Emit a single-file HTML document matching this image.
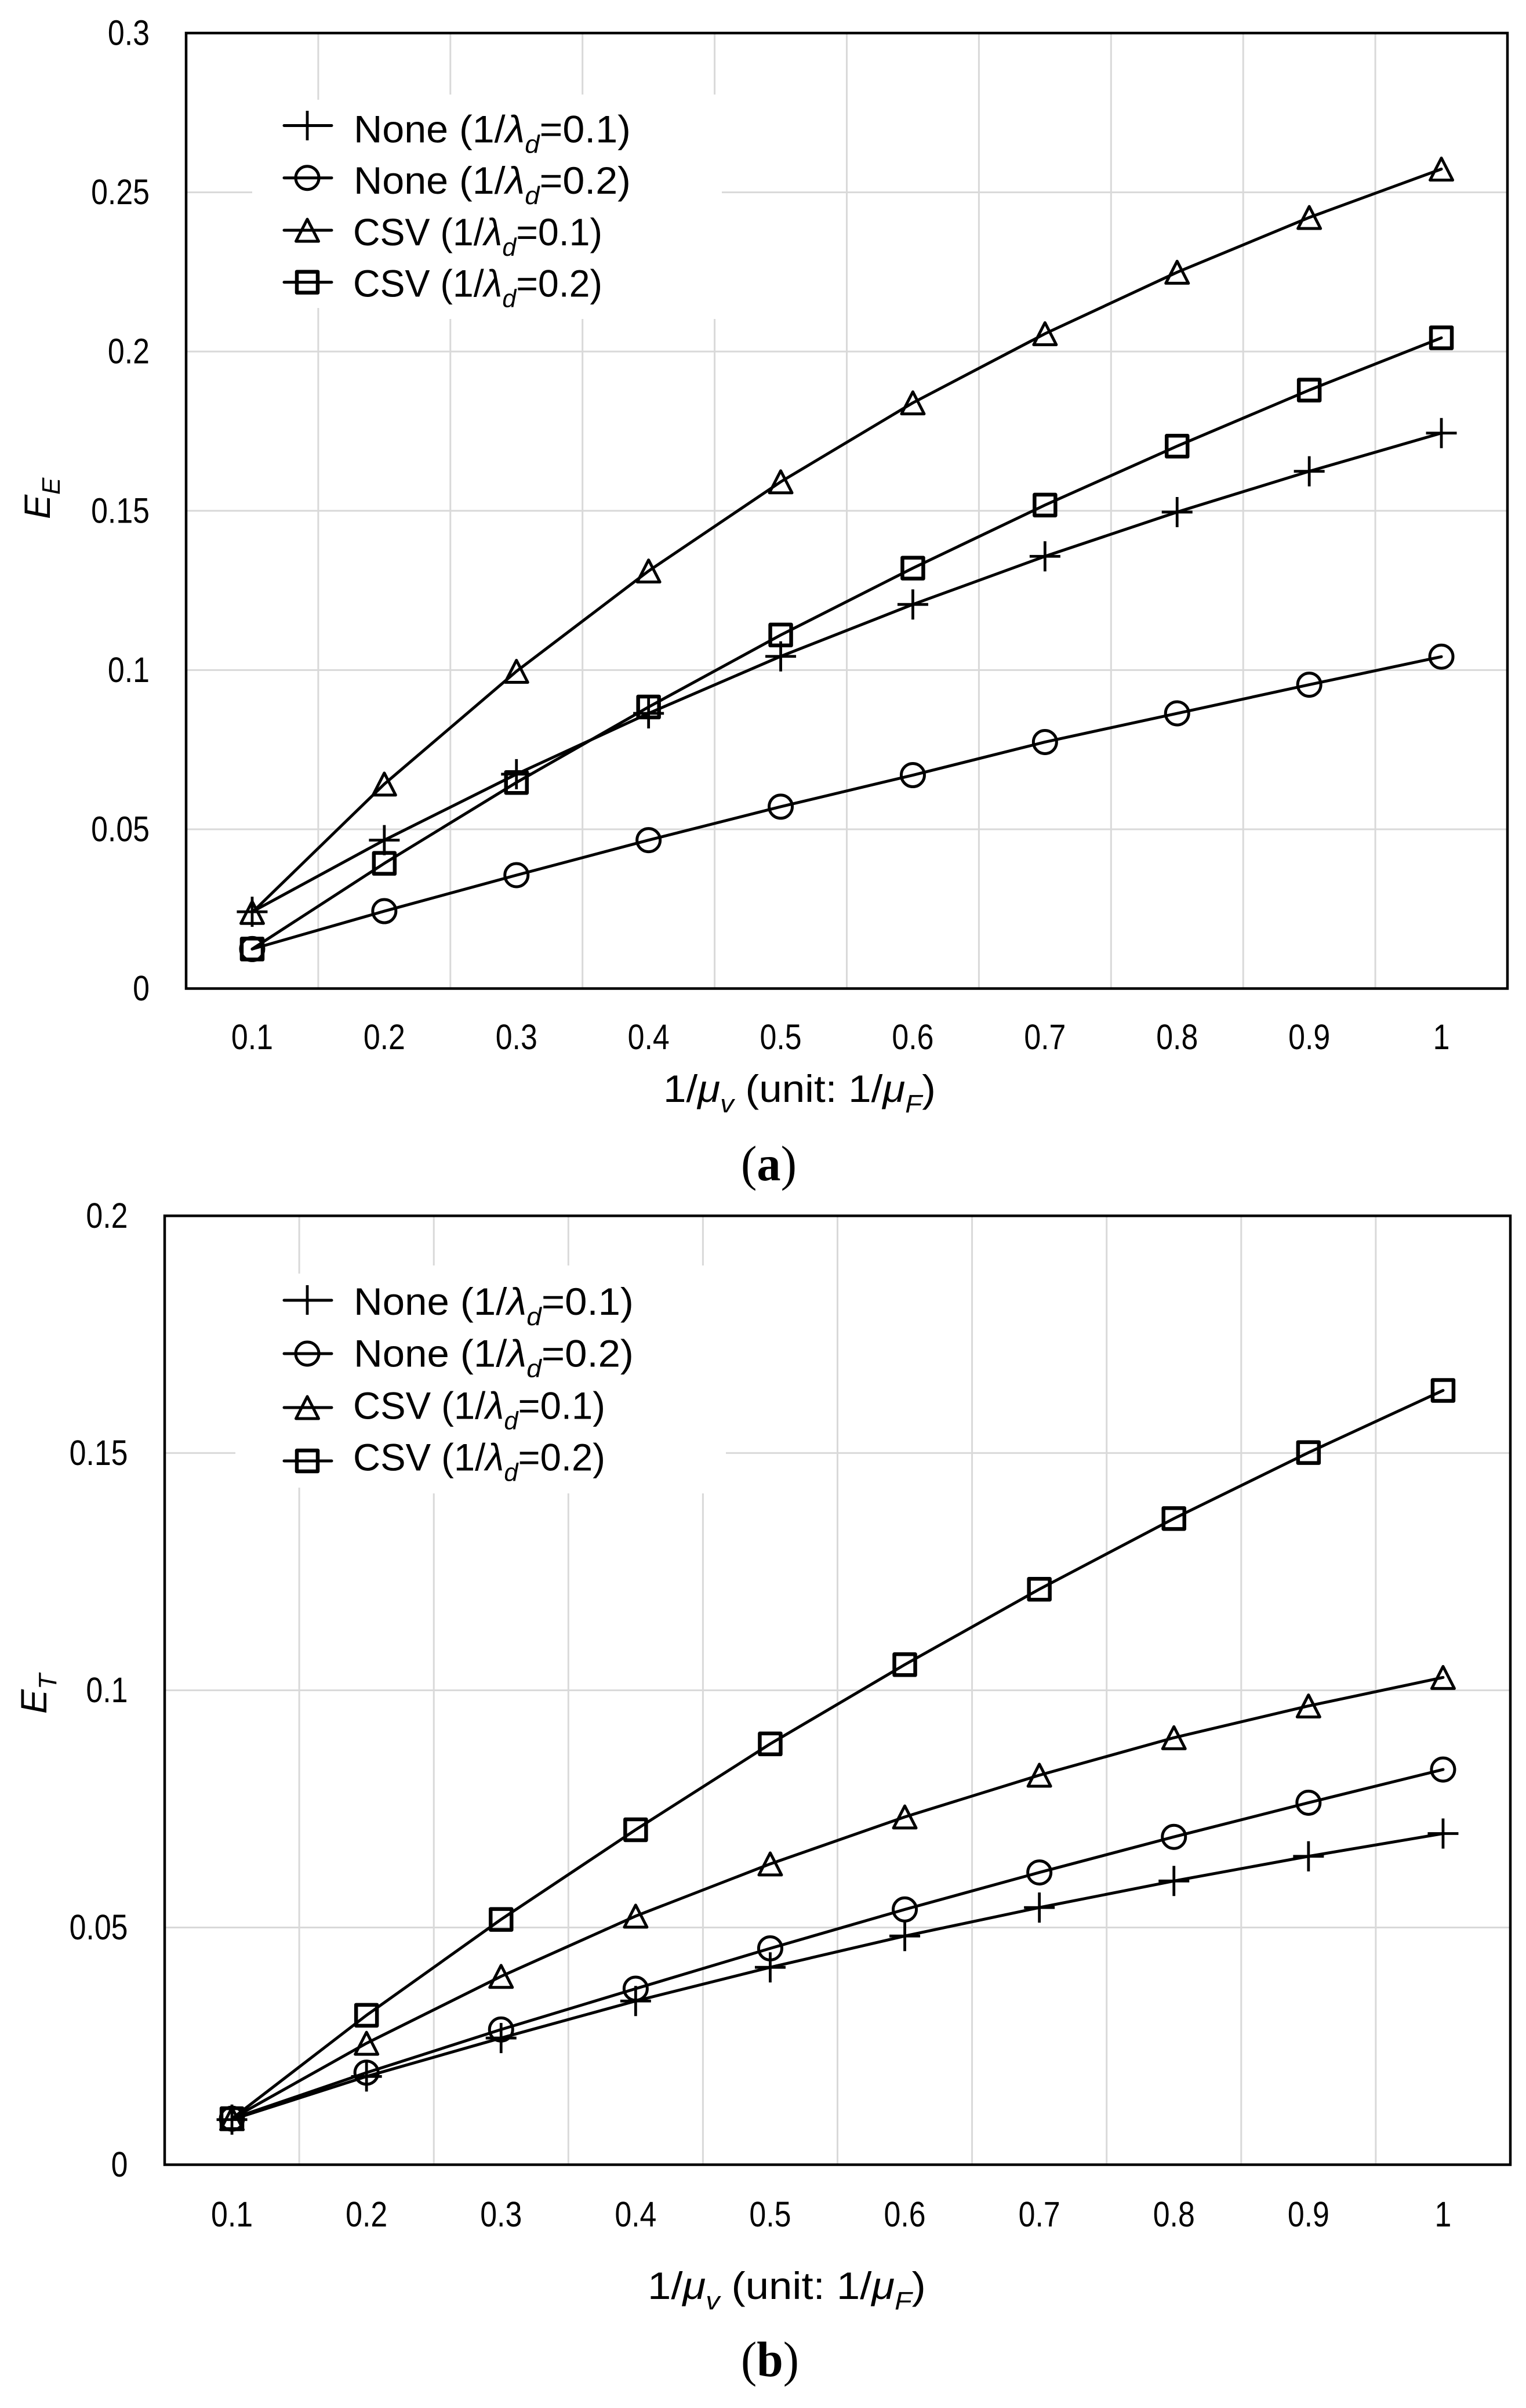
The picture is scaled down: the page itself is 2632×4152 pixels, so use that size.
<!DOCTYPE html>
<html lang="en">
<head>
<meta charset="utf-8">
<title>E_E and E_T versus 1/mu_v</title>
<style>
html,body{margin:0;padding:0;background:#fff}
svg{display:block}
text{font-family:"Liberation Sans",sans-serif;fill:#000}
.leg{font-size:66px}
.title{font-size:66px}
.ytitle{font-size:63px}
.cap{font-family:"Liberation Serif",serif;font-size:86px}
.cap .b{font-weight:bold}
.i{font-style:italic}
.s{font-style:italic;font-size:44px}
.ln{fill:none;stroke:#000;stroke-width:5;stroke-linecap:round;stroke-linejoin:round}
.sq{fill:none;stroke:#000;stroke-width:6.5;stroke-linejoin:round}
.pl{fill:none;stroke:#000;stroke-width:4.8}
</style>
</head>
<body>
<svg xmlns="http://www.w3.org/2000/svg" width="2632" height="4152" viewBox="0 0 2632 4152">

<g id="chart-a">
  <g id="grid-a"></g>
  <rect x="435" y="172" width="810" height="359" fill="#fff"/>
  <rect x="560" y="163" width="685" height="387" fill="#fff"/>
  <rect x="321" y="57" width="2279" height="1647.5" fill="none" stroke="#000" stroke-width="4.5"/>
  <g id="ticks-a"></g>
  <g id="series-a"></g>

  <g>
    <path class="ln" d="M490 216.5H572"/>
    <path class="pl" d="M530 191V242"/>
    <text class="leg" transform="translate(610,245.5)" data-fit="478">None (1/<tspan class="i">λ</tspan><tspan class="s" dy="18">d</tspan><tspan dy="-18">=0.1)</tspan></text>
    <path class="ln" d="M490 306.7H572"/>
    <circle class="ln" cx="530" cy="306.7" r="20"/>
    <text class="leg" transform="translate(610,334)" data-fit="478">None (1/<tspan class="i">λ</tspan><tspan class="s" dy="18">d</tspan><tspan dy="-18">=0.2)</tspan></text>
    <path class="ln" d="M490 397H572"/>
    <path class="ln" d="M530 378L549.5 416H510.5Z"/>
    <text class="leg" transform="translate(609,423)" data-fit="430">CSV (1/<tspan class="i">λ</tspan><tspan class="s" dy="18">d</tspan><tspan dy="-18">=0.1)</tspan></text>
    <path class="ln" d="M490 486.6H572"/>
    <rect class="sq" x="512" y="468.6" width="36" height="36"/>
    <text class="leg" transform="translate(609,511.6)" data-fit="430">CSV (1/<tspan class="i">λ</tspan><tspan class="s" dy="18">d</tspan><tspan dy="-18">=0.2)</tspan></text>
  </g>

  <text class="title" transform="translate(1144,1900)" data-fit="470">1/<tspan class="i">μ</tspan><tspan class="s" dy="18">v</tspan><tspan dy="-18"> (unit: 1/</tspan><tspan class="i">μ</tspan><tspan class="s" dy="18">F</tspan><tspan dy="-18">)</tspan></text>
  <text class="ytitle i" transform="translate(86,895) rotate(-90)">E<tspan class="s" dy="17">E</tspan></text>
  <text class="cap" transform="translate(1278,2035)" data-fit="96">(<tspan class="b">a</tspan>)</text>
</g>

<g id="chart-b">
  <g id="grid-b"></g>
  <rect x="406" y="2196" width="846" height="369" fill="#fff"/>
  <rect x="530" y="2182" width="722" height="393" fill="#fff"/>
  <rect x="284" y="2096.4" width="2321" height="1636.1" fill="none" stroke="#000" stroke-width="4.5"/>
  <g id="ticks-b"></g>
  <g id="series-b"></g>

  <g>
    <path class="ln" d="M490 2242H572"/>
    <path class="pl" d="M530 2216V2267"/>
    <text class="leg" transform="translate(610,2267)" data-fit="483">None (1/<tspan class="i">λ</tspan><tspan class="s" dy="18">d</tspan><tspan dy="-18">=0.1)</tspan></text>
    <path class="ln" d="M490 2334H572"/>
    <circle class="ln" cx="530" cy="2334" r="20"/>
    <text class="leg" transform="translate(610,2356.7)" data-fit="483">None (1/<tspan class="i">λ</tspan><tspan class="s" dy="18">d</tspan><tspan dy="-18">=0.2)</tspan></text>
    <path class="ln" d="M490 2427H572"/>
    <path class="ln" d="M530 2408L549.5 2446H510.5Z"/>
    <text class="leg" transform="translate(609,2446.4)" data-fit="435">CSV (1/<tspan class="i">λ</tspan><tspan class="s" dy="18">d</tspan><tspan dy="-18">=0.1)</tspan></text>
    <path class="ln" d="M490 2519H572"/>
    <rect class="sq" x="512" y="2501" width="36" height="36"/>
    <text class="leg" transform="translate(609,2535.7)" data-fit="435">CSV (1/<tspan class="i">λ</tspan><tspan class="s" dy="18">d</tspan><tspan dy="-18">=0.2)</tspan></text>
  </g>

  <text class="title" transform="translate(1117,3964)" data-fit="480">1/<tspan class="i">μ</tspan><tspan class="s" dy="18">v</tspan><tspan dy="-18"> (unit: 1/</tspan><tspan class="i">μ</tspan><tspan class="s" dy="18">F</tspan><tspan dy="-18">)</tspan></text>
  <text class="ytitle i" transform="translate(80,2955) rotate(-90)">E<tspan class="s" dy="17">T</tspan></text>
  <text class="cap" transform="translate(1278,4097)" data-fit="100">(<tspan class="b">b</tspan>)</text>
</g>
</svg>

<script>
var categories = ['0.1','0.2','0.3','0.4','0.5','0.6','0.7','0.8','0.9','1'];

var yTickLabelsA = ['0','0.05','0.1','0.15','0.2','0.25','0.3'];
var yTickValuesA = [0,0.05,0.1,0.15,0.2,0.25,0.3];
var noneD1A = [0.0241,0.0466,0.0673,0.0864,0.1043,0.1206,0.1357,0.1496,0.1624,0.1744];
var noneD2A = [0.0124,0.0243,0.0356,0.0466,0.0571,0.0670,0.0774,0.0864,0.0954,0.1042];
var csvD1A = [0.0239,0.0642,0.0996,0.1311,0.1591,0.1839,0.2056,0.2249,0.2421,0.2573];
var csvD2A = [0.0124,0.0393,0.0647,0.0884,0.1110,0.1320,0.1518,0.1703,0.1879,0.2043];

var yTickLabelsB = ['0','0.05','0.1','0.15','0.2'];
var yTickValuesB = [0,0.05,0.1,0.15,0.2];
var noneD1B = [0.0095,0.0186,0.0267,0.0345,0.0416,0.0482,0.0542,0.0598,0.0650,0.0698];
var noneD2B = [0.0097,0.0194,0.0285,0.0371,0.0456,0.0538,0.0616,0.0691,0.0763,0.0833];
var csvD1B = [0.0097,0.0256,0.0397,0.0524,0.0634,0.0733,0.0821,0.0900,0.0967,0.1027];
var csvD2B = [0.0097,0.0315,0.0517,0.0706,0.0887,0.1054,0.1213,0.1362,0.1501,0.1632];

var NS = 'http://www.w3.org/2000/svg';

function make(tag, attrs, parent) {
  var el = document.createElementNS(NS, tag);
  for (var k in attrs) { el.setAttribute(k, attrs[k]); }
  parent.appendChild(el);
  return el;
}

function drawMarker(kind, cx, cy, parent) {
  var el;
  if (kind === 'plus') {
    el = make('path', {d: 'M' + (cx - 26.5) + ' ' + cy + 'H' + (cx + 26.5) + 'M' + cx + ' ' + (cy - 26) + 'V' + (cy + 26), 'class': 'pl'}, parent);
  } else if (kind === 'circle') {
    el = make('circle', {cx: cx, cy: cy, r: 20, 'class': 'ln'}, parent);
  } else if (kind === 'triangle') {
    el = make('path', {d: 'M' + cx + ' ' + (cy - 19) + 'L' + (cx + 19.5) + ' ' + (cy + 19) + 'H' + (cx - 19.5) + 'Z', 'class': 'ln'}, parent);
  } else {
    el = make('rect', {x: cx - 18, y: cy - 18, width: 36, height: 36, 'class': 'sq'}, parent);
  }
  return el;
}

function drawChart(c) {
  var band = (c.right - c.left) / c.categories.length;
  function xScale(i) { return c.left + (i + 0.5) * band; }
  function yScale(v) { return c.bottom - (v / c.yMax) * (c.bottom - c.top); }

  var grid = document.getElementById('grid-' + c.id);
  var ticks = document.getElementById('ticks-' + c.id);
  var series = document.getElementById('series-' + c.id);

  c.categories.forEach(function (cat, i) {
    if (i > 0) {
      var vx = c.left + i * band;
      var vLine = make('line', {x1: vx, x2: vx, y1: c.top, y2: c.bottom, stroke: '#d9d9d9', 'stroke-width': 3}, grid);
      
      
    }
    var xt = make('text', {transform: 'translate(' + xScale(i) + ',' + c.xTickY + ') scale(0.85,1)', 'text-anchor': 'middle', 'font-size': 61}, ticks);
    xt.textContent = cat;
    
    
  });

  c.yValues.forEach(function (v, i) {
    var gy = yScale(v);
    if (v > 0 && i < c.yValues.length - 1) {
      var hLine = make('line', {x1: c.left, x2: c.right, y1: gy, y2: gy, stroke: '#d9d9d9', 'stroke-width': 3}, grid);
      
      
    }
    var yt = make('text', {transform: 'translate(' + c.yTickX + ',' + (gy + 20.5) + ') scale(0.85,1)', 'text-anchor': 'end', 'font-size': 61}, ticks);
    yt.textContent = c.yLabels[i];
    
    
  });

  c.series.forEach(function (s) {
    var g = make('g', {}, series);
    
    
    var pts = s.values.map(function (v, i) { return xScale(i) + ',' + yScale(v); }).join(' ');
    var line = make('polyline', {points: pts, 'class': 'ln'}, g);
    
    
    s.values.forEach(function (v, i) {
      var m = drawMarker(s.marker, xScale(i), yScale(v), g);
      
      
    });
  });
}

drawChart({
  id: 'a', left: 321, right: 2600, top: 57, bottom: 1704.5, yMax: 0.3,
  yTickX: 258, xTickY: 1809,
  categories: categories, yValues: yTickValuesA, yLabels: yTickLabelsA,
  series: [
    {name: 'none-0.1', marker: 'plus', values: noneD1A},
    {name: 'none-0.2', marker: 'circle', values: noneD2A},
    {name: 'csv-0.1', marker: 'triangle', values: csvD1A},
    {name: 'csv-0.2', marker: 'square', values: csvD2A}
  ]
});

drawChart({
  id: 'b', left: 284, right: 2605, top: 2096.4, bottom: 3732.5, yMax: 0.2,
  yTickX: 220.5, xTickY: 3839,
  categories: categories, yValues: yTickValuesB, yLabels: yTickLabelsB,
  series: [
    {name: 'none-0.1', marker: 'plus', values: noneD1B},
    {name: 'none-0.2', marker: 'circle', values: noneD2B},
    {name: 'csv-0.1', marker: 'triangle', values: csvD1B},
    {name: 'csv-0.2', marker: 'square', values: csvD2B}
  ]
});

Array.prototype.forEach.call(document.querySelectorAll('text[data-fit]'), function (t) {
  var target = parseFloat(t.getAttribute('data-fit'));
  var natural = t.getComputedTextLength();
  if (natural > 0) {
    t.setAttribute('transform', t.getAttribute('transform') + ' scale(' + (target / natural) + ',1)');
  }
});
</script>
</body>
</html>
